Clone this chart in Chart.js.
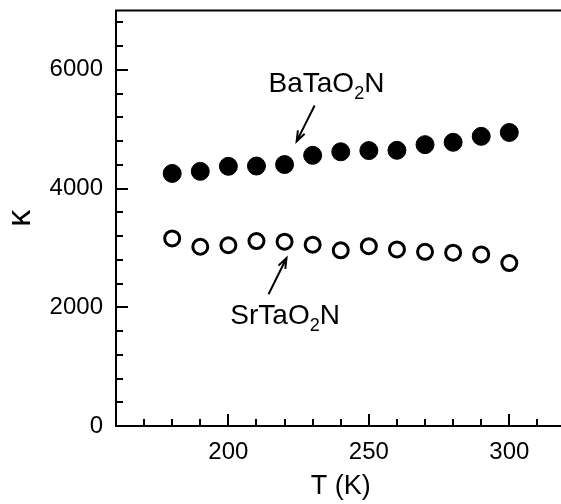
<!DOCTYPE html>
<html>
<head>
<meta charset="utf-8">
<script src="https://cdn.jsdelivr.net/npm/chart.js@4.4.0/dist/chart.umd.min.js"></script>
<style>
    html, body { margin: 0; padding: 0; background: #fff; overflow: hidden; }
    #wrap { width: 576px; height: 504px; }
</style>
</head>
<body>
<div id="wrap"><canvas id="kappaChart" width="576" height="504"></canvas></div>
<script>
// Temperature (K)
const temps = [180, 190, 200, 210, 220, 230, 240, 250, 260, 270, 280, 290, 300];

// Dielectric constant
const baTaO2N = [4255, 4290, 4375, 4380, 4405, 4560, 4620, 4640, 4645, 4740, 4780, 4880, 4945];
const srTaO2N = [3160, 3020, 3045, 3115, 3105, 3055, 2960, 3030, 2975, 2935, 2920, 2890, 2745];

// Axis ranges and ticks
const xRange = [160, 320];
const yRange = [0, 7000];
const xTickLabels = [200, 250, 300];
const yTickLabels = [0, 2000, 4000, 6000];
const xMinorStep = 10, xMajorStep = 50;
const yMinorStep = 400, yMajorStep = 2000;

// Annotation labels: [main, subscript, tail, x, y] (data units, text start / baseline)
const labelBa = ['BaTaO', '2', 'N', 214.3, 5620];
const labelSr = ['SrTaO', '2', 'N', 200.7, 1716];
// Arrows: [fromX, fromY, toX, toY]
const arrowBa = [230.7, 5400, 224.3, 4795];
const arrowSr = [214.3, 2220, 220.7, 2830];

const FONT = '"Liberation Sans", Arial, sans-serif';

// Frame, inward ticks and the two labels with arrows
const framePlugin = {
    id: 'frame',
    afterDraw(chart) {
        const { ctx, chartArea: a, scales: { x, y } } = chart;
        ctx.save();
        ctx.strokeStyle = '#000';
        ctx.lineWidth = 2;
        ctx.strokeRect(a.left, a.top, a.right - a.left, a.bottom - a.top);

        ctx.beginPath();
        for (let v = xRange[0] + xMinorStep; v < xRange[1]; v += xMinorStep) {
            const px = Math.round(x.getPixelForValue(v));
            const len = v % xMajorStep === 0 ? 12 : 7;
            ctx.moveTo(px, a.bottom);
            ctx.lineTo(px, a.bottom - len);
        }
        for (let v = yRange[0] + yMinorStep; v < yRange[1]; v += yMinorStep) {
            const py = Math.round(y.getPixelForValue(v));
            const len = v % yMajorStep === 0 ? 12 : 7;
            ctx.moveTo(a.left, py);
            ctx.lineTo(a.left + len, py);
        }
        ctx.stroke();

        // labels with subscript
        const drawLabel = (lab) => {
            let px = x.getPixelForValue(lab[3]);
            const py = y.getPixelForValue(lab[4]);
            ctx.fillStyle = '#000';
            ctx.textBaseline = 'alphabetic';
            ctx.textAlign = 'left';
            ctx.font = '28px ' + FONT;
            ctx.fillText(lab[0], px, py);
            px += ctx.measureText(lab[0]).width;
            ctx.font = '18px ' + FONT;
            ctx.fillText(lab[1], px, py + 7);
            px += ctx.measureText(lab[1]).width;
            ctx.font = '28px ' + FONT;
            ctx.fillText(lab[2], px, py);
        };
        drawLabel(labelBa);
        drawLabel(labelSr);

        const drawArrow = (ar) => {
            const x0 = x.getPixelForValue(ar[0]), y0 = y.getPixelForValue(ar[1]);
            const x1 = x.getPixelForValue(ar[2]), y1 = y.getPixelForValue(ar[3]);
            const ang = Math.atan2(y1 - y0, x1 - x0);
            const head = 11, spread = 0.35;
            ctx.beginPath();
            ctx.lineWidth = 2;
            ctx.moveTo(x0, y0);
            ctx.lineTo(x1, y1);
            ctx.moveTo(x1 - head * Math.cos(ang - spread), y1 - head * Math.sin(ang - spread));
            ctx.lineTo(x1, y1);
            ctx.lineTo(x1 - head * Math.cos(ang + spread), y1 - head * Math.sin(ang + spread));
            ctx.stroke();
        };
        drawArrow(arrowBa);
        drawArrow(arrowSr);
        ctx.restore();
    }
};

const ctx = document.getElementById('kappaChart').getContext('2d');
new Chart(ctx, {
    type: 'scatter',
    data: {
        datasets: [
            {
                label: 'BaTaO2N',
                data: temps.map((t, i) => ({ x: t, y: baTaO2N[i] })),
                pointRadius: 9,
                pointBorderWidth: 1,
                pointBackgroundColor: '#000',
                pointBorderColor: '#000'
            },
            {
                label: 'SrTaO2N',
                data: temps.map((t, i) => ({ x: t, y: srTaO2N[i] })),
                pointRadius: 7.5,
                pointBorderWidth: 3,
                pointBackgroundColor: '#fff',
                pointBorderColor: '#000'
            }
        ]
    },
    options: {
        responsive: false,
        animation: false,
        layout: { padding: { top: 10, left: 0, right: 0, bottom: 0 } },
        plugins: {
            legend: { display: false },
            tooltip: { enabled: false }
        },
        scales: {
            x: {
                type: 'linear',
                min: xRange[0],
                max: xRange[1],
                grid: { display: false, drawTicks: false },
                border: { display: false },
                ticks: {
                    autoSkip: false,
                    maxRotation: 0,
                    padding: 12,
                    color: '#000',
                    font: { family: FONT, size: 24 },
                    callback: v => String(v)
                },
                title: {
                    display: true,
                    text: 'T (K)',
                    color: '#000',
                    font: { family: FONT, size: 27 },
                    padding: { top: 0, bottom: 1 }
                },
                afterBuildTicks(scale) { scale.ticks = xTickLabels.map(v => ({ value: v })); },
                afterFit(scale) {
                    scale.height = 78;
                    scale.paddingLeft = 0;
                    scale.paddingRight = 0;
                }
            },
            y: {
                type: 'linear',
                min: yRange[0],
                max: yRange[1],
                grid: { display: false, drawTicks: false },
                border: { display: false },
                ticks: {
                    autoSkip: false,
                    padding: 13,
                    color: '#000',
                    font: { family: FONT, size: 24 },
                    callback: v => String(v)
                },
                title: {
                    display: true,
                    text: 'κ',
                    color: '#000',
                    font: { family: FONT, size: 34 },
                    padding: { top: 0, bottom: 0 }
                },
                afterBuildTicks(scale) { scale.ticks = yTickLabels.map(v => ({ value: v })); },
                afterFit(scale) {
                    scale.width = 116;
                    scale.paddingTop = 0;
                    scale.paddingBottom = 0;
                }
            }
        }
    },
    plugins: [framePlugin]
});
</script>
</body>
</html>
